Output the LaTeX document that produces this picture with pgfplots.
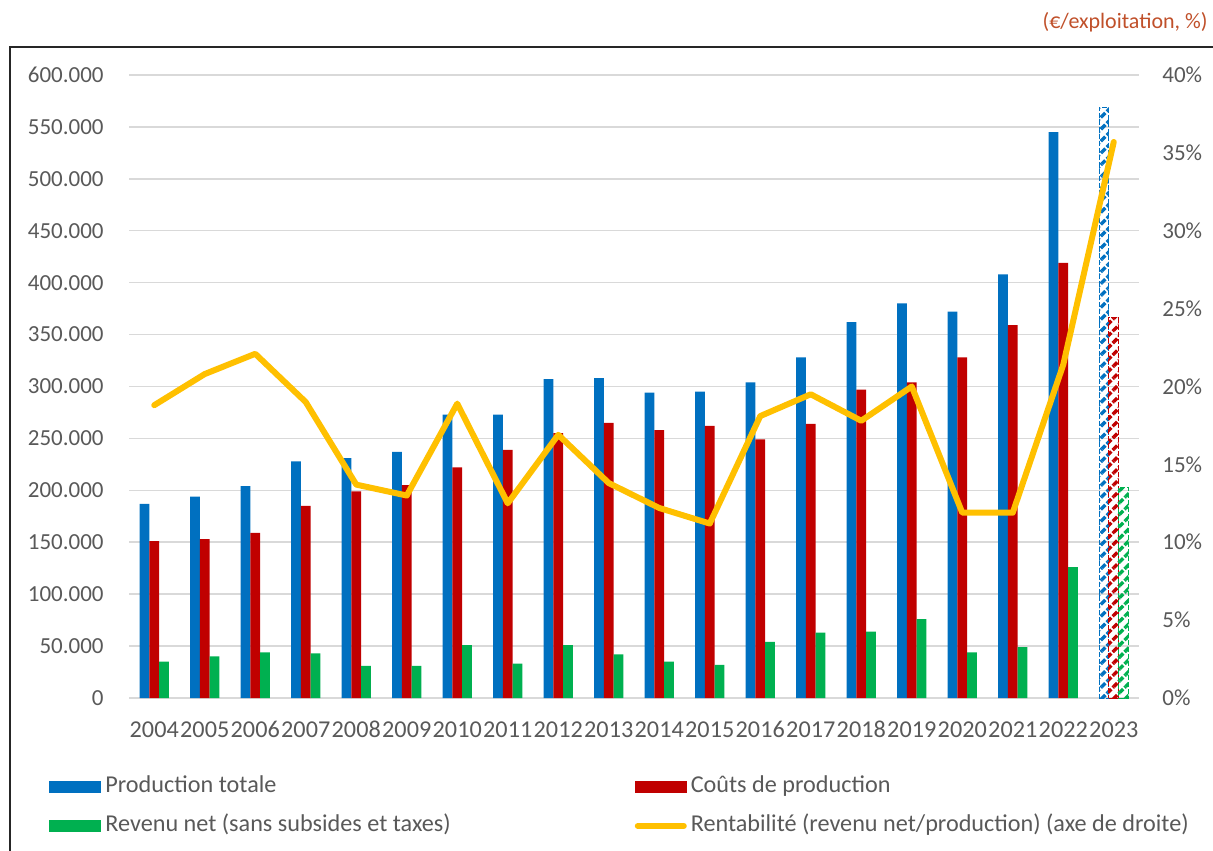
\documentclass[border=0pt]{standalone}
\usepackage{pgfplots}
\pgfplotsset{compat=1.18}
\usepackage{pgfplotstable}
\usepackage{fontspec}
\setmainfont{Carlito}
\usetikzlibrary{patterns.meta}

\definecolor{cBlue}{HTML}{0070C0}
\definecolor{cRed}{HTML}{C00000}
\definecolor{cGreen}{HTML}{00B050}
\definecolor{cYellow}{HTML}{FFC000}
\definecolor{tickGray}{HTML}{595959}
\definecolor{gridGray}{HTML}{D9D9D9}
\definecolor{titleRed}{HTML}{C0502A}

\newcommand{\lbl}{\fontsize{11}{13}\selectfont}
\newcommand{\ylbl}{\fontsize{11.5}{13}\selectfont}
\newcommand{\biglbl}{\fontsize{12.1}{14}\selectfont}

\pgfplotsset{
  barleg/.style={legend image code/.code={\fill[##1] (0pt,-3pt) rectangle (26pt,3pt);}},
  lineleg/.style={legend image code/.code={\draw[##1] (1.5pt,0pt) -- (24.5pt,0pt);}},
  hatched/.style={pattern={Lines[angle=45,distance=4.2pt,line width=1.7pt]},
    pattern color=#1, draw=#1, line width=0.5pt, dash pattern=on 2.5pt off 1pt},
}

% x, année, production totale, coûts, revenu net, rentabilité (%)
\pgfplotstableread{
idx year prod cout rev rent
0  2004 187000 151000  35000 18.8
1  2005 194000 153000  40000 20.8
2  2006 204000 159000  44000 22.1
3  2007 228000 185000  43000 19.0
4  2008 231000 199000  31000 13.7
5  2009 237000 205000  31000 13.0
6  2010 273000 222000  51000 18.9
7  2011 273000 239000  33000 12.5
8  2012 307000 255000  51000 16.9
9  2013 308000 265000  42000 13.8
10 2014 294000 258000  35000 12.2
11 2015 295000 262000  32000 11.2
12 2016 304000 249000  54000 18.1
13 2017 328000 264000  63000 19.5
14 2018 362000 297000  64000 17.8
15 2019 380000 304000  76000 20.0
16 2020 372000 328000  44000 11.9
17 2021 408000 359000  49000 11.9
18 2022 545000 419000 126000 21.4
19 2023 569000 366000 203000 35.7
}\datatable

\begin{document}
\begin{tikzpicture}
\useasboundingbox (-64.5pt,-76pt) rectangle (542pt,349pt);
\draw[line width=1pt, black!85] (-59.5pt,-80pt) -- (-59.5pt,325.5pt) -- (546pt,325.5pt);
\node[anchor=east, inner sep=0pt, text=titleRed, font=\lbl] at (539.5pt,338pt) {(€/exploitation, \%)};

\begin{axis}[
  scale only axis, width=505pt, height=311.5pt,
  xmin=-0.5, xmax=19.5, ymin=0, ymax=600000,
  xtick={0,...,19},
  xticklabels from table={\datatable}{year},
  ytick={0,50000,...,600000},
  scaled y ticks=false,
  /pgf/number format/.cd, fixed, 1000 sep={.}, assume math mode=true, /pgfplots/.cd,
  axis line style={draw=none},
  major tick length=0pt,
  ymajorgrids, grid style={gridGray, line width=0.75pt},
  xticklabel style={font=\biglbl, text=tickGray, anchor=north, inner sep=0pt,
    text height=7.8pt, text depth=0pt, yshift=-11.5pt},
  yticklabel style={font=\ylbl, text=tickGray, anchor=east, inner sep=0pt, xshift=-12.5pt},
  legend columns=2,
  legend cell align=left,
  legend style={at={(-0.0792,-0.118)}, anchor=north west, draw=none, fill=none,
    inner sep=0pt, font=\biglbl, text=tickGray,
    nodes={text height=8.5pt, text depth=2.5pt, inner sep=2pt},
    /tikz/row sep=4.5pt,
    /tikz/every even column/.append style={column sep=90pt}},
]
  \addplot[ybar, bar width=4.9pt, bar shift=-4.9pt, fill=cBlue, draw=none, barleg,
    skip coords between index={19}{20}] table[x=idx, y=prod] {\datatable};
  \addlegendentry{Production totale}
  \addplot[ybar, bar width=4.9pt, bar shift=0pt, fill=cRed, draw=none, barleg,
    skip coords between index={19}{20}] table[x=idx, y=cout] {\datatable};
  \addlegendentry{Coûts de production}
  \addplot[ybar, bar width=4.9pt, bar shift=4.9pt, fill=cGreen, draw=none, barleg,
    skip coords between index={19}{20}] table[x=idx, y=rev] {\datatable};
  \addlegendentry{Revenu net (sans subsides et taxes)}
  \addlegendimage{cYellow, line width=3pt, line cap=round, lineleg}
  \addlegendentry{Rentabilité (revenu net/production) (axe de droite)}

  % 2023 : estimation, barres hachurées
  \addplot[ybar, bar width=4.9pt, bar shift=-4.9pt, hatched=cBlue, forget plot,
    skip coords between index={0}{19}] table[x=idx, y=prod] {\datatable};
  \addplot[ybar, bar width=4.9pt, bar shift=0pt, hatched=cRed, forget plot,
    skip coords between index={0}{19}] table[x=idx, y=cout] {\datatable};
  \addplot[ybar, bar width=4.9pt, bar shift=4.9pt, hatched=cGreen, forget plot,
    skip coords between index={0}{19}] table[x=idx, y=rev] {\datatable};
\end{axis}

\begin{axis}[
  scale only axis, width=505pt, height=311.5pt,
  xmin=-0.5, xmax=19.5, ymin=0, ymax=40,
  axis x line=none, axis y line*=right,
  axis line style={draw=none},
  major tick length=0pt,
  ytick={0,5,...,40},
  yticklabel={\pgfmathprintnumber{\tick}\%},
  /pgf/number format/assume math mode=true,
  yticklabel style={font=\ylbl, text=tickGray, anchor=west, inner sep=0pt, xshift=11.5pt},
]
  \addplot[cYellow, line width=3pt, line join=round, line cap=round]
    table[x=idx, y=rent] {\datatable};
\end{axis}
\end{tikzpicture}
\end{document}
